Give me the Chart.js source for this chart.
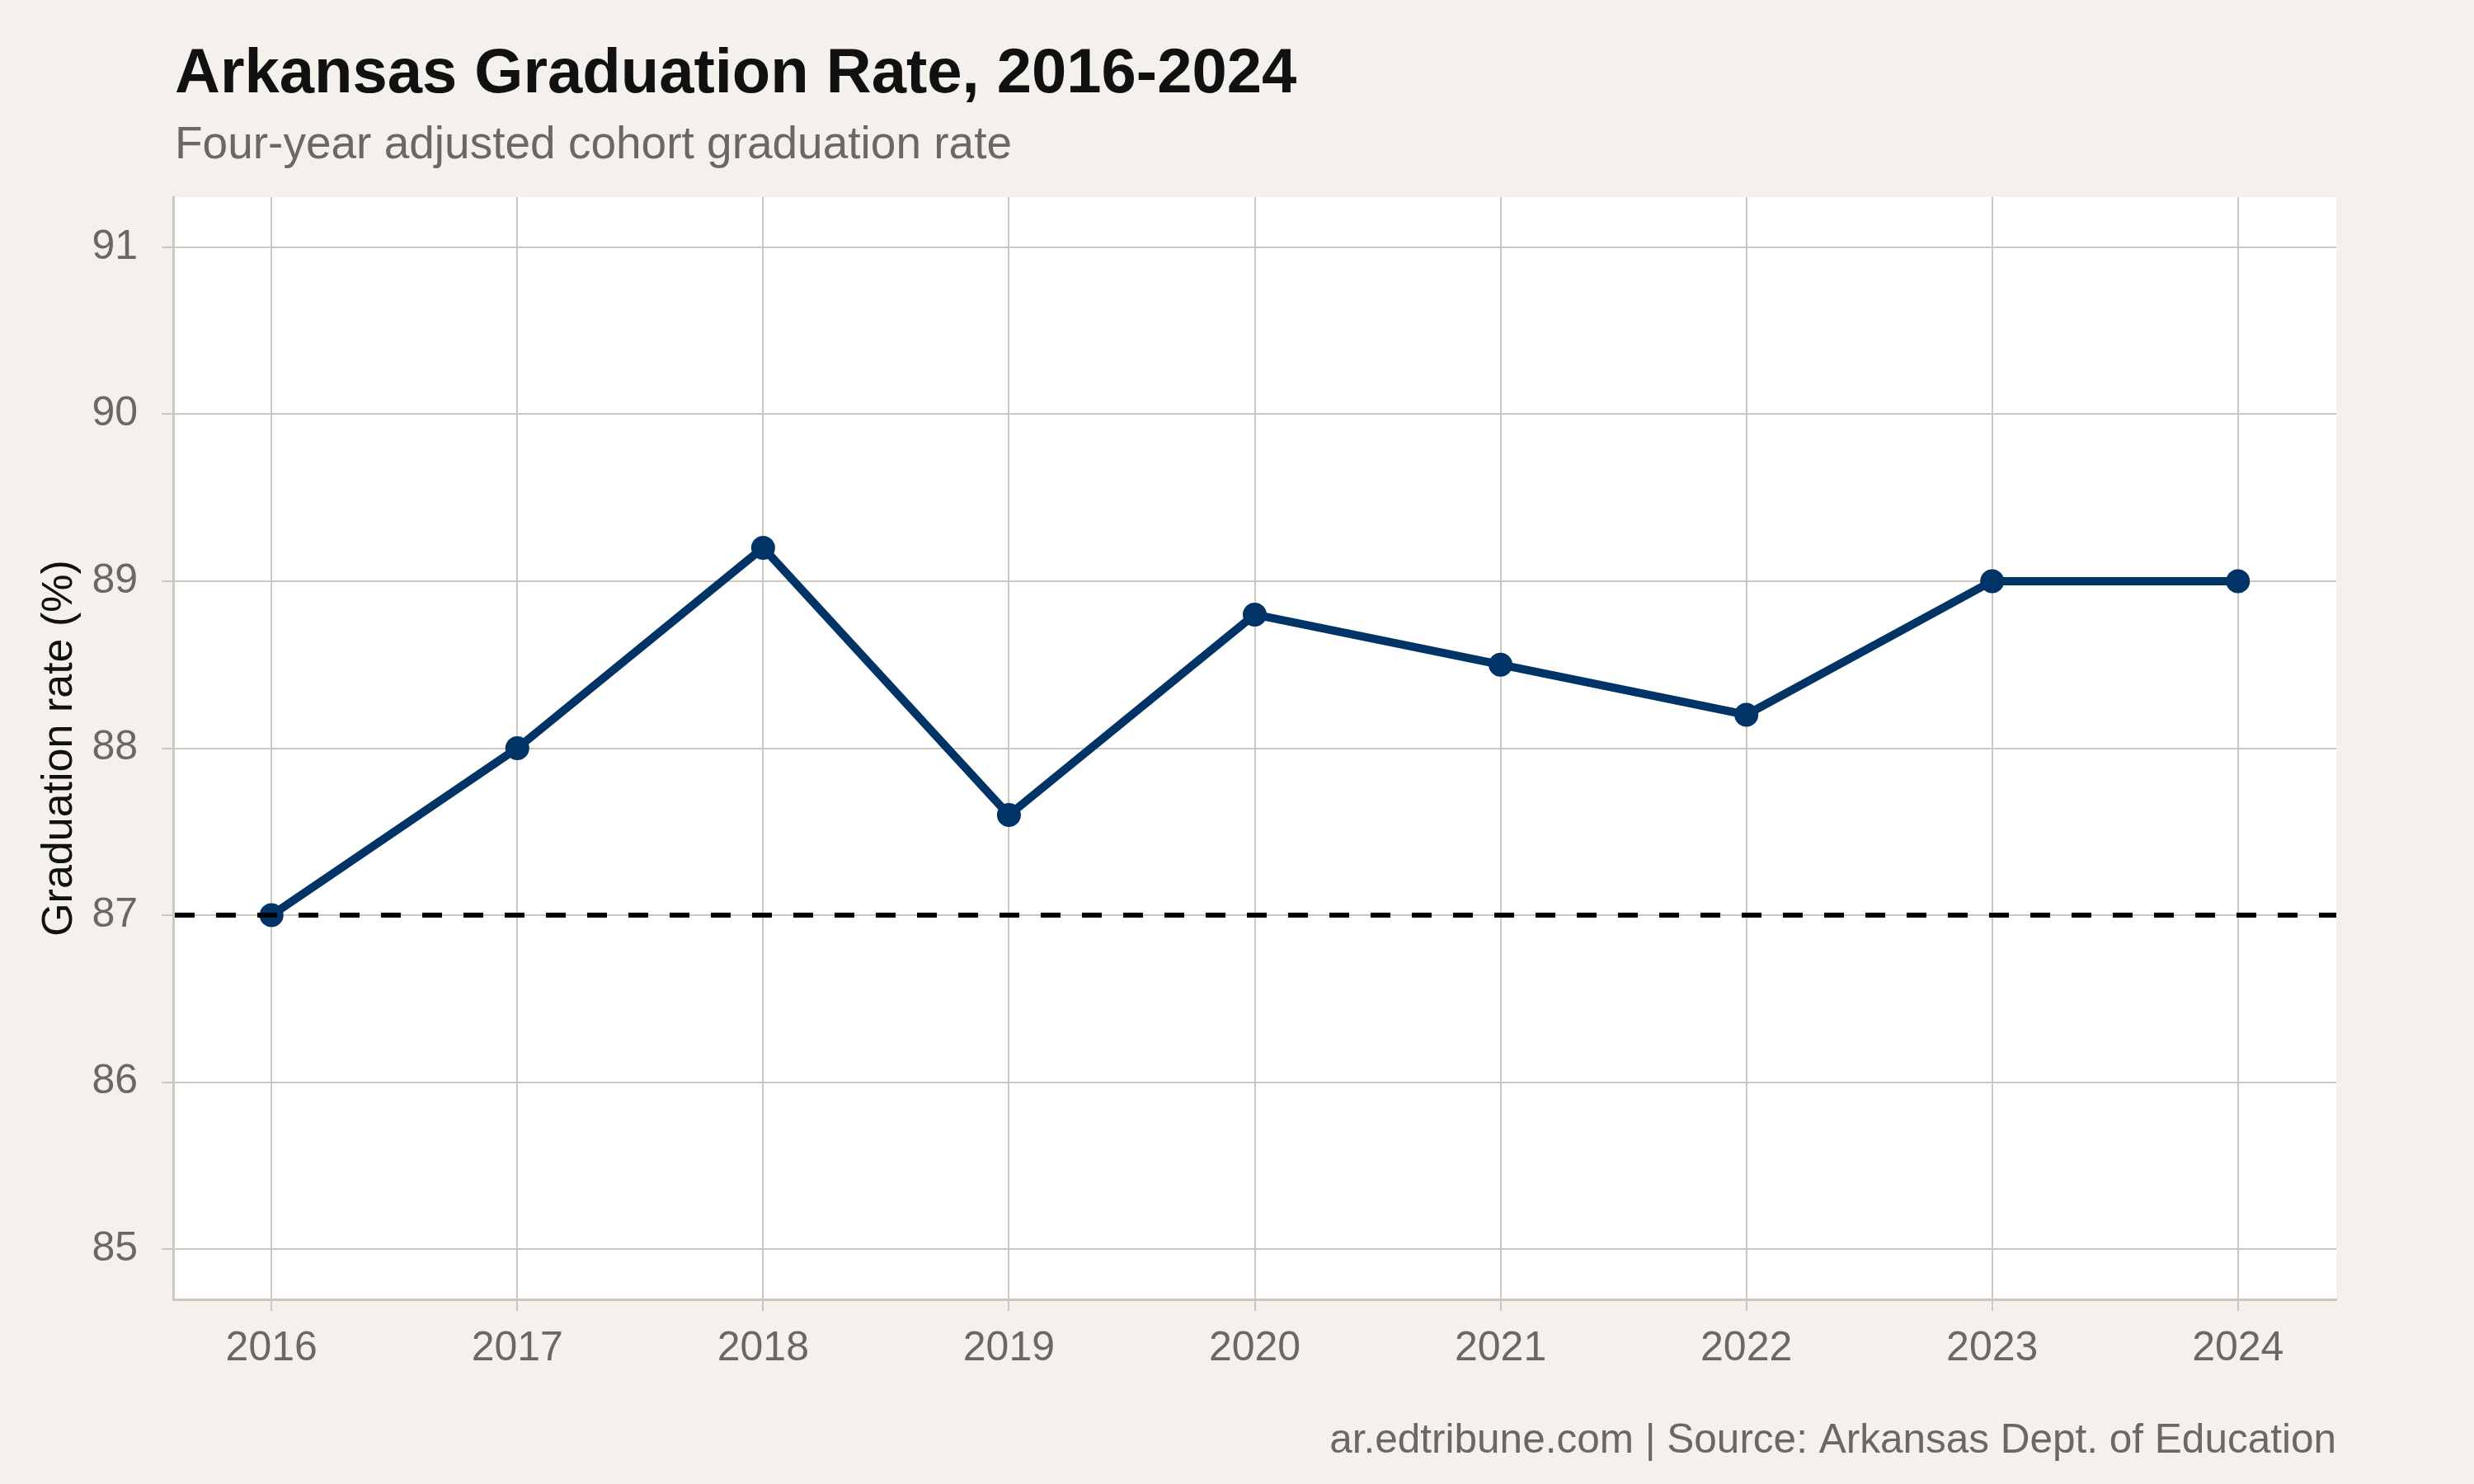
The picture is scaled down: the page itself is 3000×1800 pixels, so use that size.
<!DOCTYPE html>
<html lang="en">
<head>
  <meta charset="UTF-8">
  <title>Arkansas Graduation Rate, 2016-2024</title>
  <script src="https://cdn.jsdelivr.net/npm/chart.js"></script>
  <style>
    html, body {
      margin: 0;
      padding: 0;
      background-color: #f4f1ec;
    }
    #grafico {
      display: block;
    }
  </style>
</head>

<body>
  <canvas id="grafico" width="3000" height="1800"></canvas>

  <script>
    // data
    const years = [2016, 2017, 2018, 2019, 2020, 2021, 2022, 2023, 2024];
    const gradRates = [87.0, 88.0, 89.2, 87.6, 88.8, 88.5, 88.2, 89.0, 89.0];
    const yTicks = [85, 86, 87, 88, 89, 90, 91];
    const referenceRate = 87;

    const titleText = "Arkansas Graduation Rate, 2016-2024";
    const subtitleText = "Four-year adjusted cohort graduation rate";
    const captionText = "ar.edtribune.com | Source: Arkansas Dept. of Education";
    const yAxisTitle = "Graduation rate (%)";

    const FONT = "'Liberation Sans', Arial, Helvetica, sans-serif";
    const gridColor = "#cdc8bf";
    const textGrey = "#6b6862";
    const navy = "#003366";

    // background: beige page, white panel
    const fundo = {
      id: "fundo",
      beforeDraw(chart) {
        const { ctx, chartArea: a } = chart;
        ctx.save();
        ctx.fillStyle = "#f4f1ec";
        ctx.fillRect(0, 0, chart.width, chart.height);
        ctx.fillStyle = "#ffffff";
        ctx.fillRect(a.left, a.top, a.right - a.left, a.bottom - a.top);
        ctx.restore();
      }
    };

    // dashed reference line at 87
    const linhaRef = {
      id: "linhaRef",
      afterDatasetsDraw(chart) {
        const { ctx, chartArea: a, scales } = chart;
        const y = scales.y.getPixelForValue(referenceRate);
        ctx.save();
        ctx.strokeStyle = "#000000";
        ctx.lineWidth = 6;
        ctx.setLineDash([24, 26]);
        ctx.beginPath();
        ctx.moveTo(a.left + 2, y);
        ctx.lineTo(a.right, y);
        ctx.stroke();
        ctx.restore();
      }
    };

    // title, subtitle and caption, aligned with the panel
    const textos = {
      id: "textos",
      afterDraw(chart) {
        const { ctx, chartArea: a } = chart;
        ctx.save();
        ctx.textBaseline = "alphabetic";
        ctx.textAlign = "left";
        ctx.fillStyle = "#111111";
        ctx.font = "bold 76px " + FONT;
        ctx.fillText(titleText, a.left + 2, 112);
        ctx.fillStyle = textGrey;
        ctx.font = "55px " + FONT;
        ctx.fillText(subtitleText, a.left + 2, 192);
        ctx.textAlign = "right";
        ctx.font = "49.5px " + FONT;
        ctx.fillText(captionText, a.right, 1762);
        ctx.restore();
      }
    };

    new Chart(document.getElementById("grafico"), {
      type: "line",
      data: {
        labels: years,
        datasets: [{
          label: "Graduation rate",
          data: years.map((ano, i) => ({ x: ano, y: gradRates[i] })),
          borderColor: navy,
          backgroundColor: navy,
          borderWidth: 10,
          pointRadius: 14.5,
          pointBorderWidth: 0,
          pointBackgroundColor: navy,
          tension: 0,
          fill: false
        }]
      },
      options: {
        responsive: false,
        devicePixelRatio: 1,
        animation: false,
        layout: {
          padding: { top: 239, right: 167, left: 0, bottom: 0 }
        },
        plugins: {
          legend: { display: false },
          tooltip: { enabled: false }
        },
        scales: {
          x: {
            type: "linear",
            min: 2015.6,
            max: 2024.4,
            afterBuildTicks: s => { s.ticks = years.map(v => ({ value: v })); },
            afterFit: s => { s.height = 224; },
            grid: {
              color: gridColor,
              lineWidth: 2,
              tickLength: 14,
              tickColor: gridColor
            },
            border: { color: gridColor, width: 3 },
            ticks: {
              callback: v => String(v),
              font: { family: FONT, size: 50 },
              color: textGrey,
              padding: 16,
              maxRotation: 0,
              autoSkip: false
            }
          },
          y: {
            min: 84.7,
            max: 91.3,
            afterBuildTicks: s => { s.ticks = yTicks.map(v => ({ value: v })); },
            afterFit: s => { s.width = 210; },
            grid: {
              color: gridColor,
              lineWidth: 2,
              tickLength: 14,
              tickColor: gridColor
            },
            border: { color: gridColor, width: 3 },
            ticks: {
              callback: v => String(v),
              font: { family: FONT, size: 50 },
              color: textGrey,
              padding: 29
            },
            title: {
              display: true,
              text: yAxisTitle,
              color: "#111111",
              font: { family: FONT, size: 52 },
              padding: { top: 41, bottom: 0 }
            }
          }
        }
      },
      plugins: [fundo, linhaRef, textos]
    });
  </script>
</body>

</html>
